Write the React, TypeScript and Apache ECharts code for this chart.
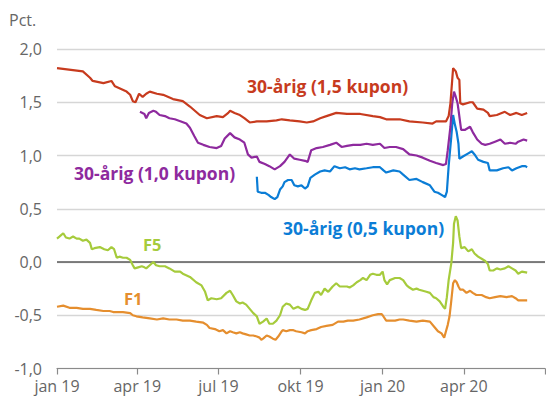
import React, { useEffect, useRef } from "react";
import * as echarts from "echarts";

type P = [string, number];

const kupon15: P[] = [
  ["2019-01-01", 1.82], ["2019-01-30", 1.79], ["2019-02-07", 1.73], ["2019-02-10", 1.70], ["2019-02-22", 1.68],
  ["2019-03-03", 1.70], ["2019-03-07", 1.65], ["2019-03-20", 1.60], ["2019-03-24", 1.57], ["2019-03-27", 1.51],
  ["2019-03-30", 1.50], ["2019-04-03", 1.58], ["2019-04-07", 1.55], ["2019-04-11", 1.58], ["2019-04-15", 1.60],
  ["2019-04-23", 1.58], ["2019-04-30", 1.57], ["2019-05-11", 1.53], ["2019-05-22", 1.51], ["2019-05-30", 1.46],
  ["2019-06-10", 1.38], ["2019-06-18", 1.35], ["2019-06-29", 1.37], ["2019-07-06", 1.36], ["2019-07-12", 1.40],
  ["2019-07-14", 1.42], ["2019-07-19", 1.40], ["2019-07-25", 1.38], ["2019-07-30", 1.35], ["2019-08-05", 1.31],
  ["2019-08-13", 1.32], ["2019-08-24", 1.32], ["2019-09-04", 1.33], ["2019-09-10", 1.34], ["2019-09-19", 1.33],
  ["2019-09-30", 1.32], ["2019-10-08", 1.31], ["2019-10-15", 1.32], ["2019-10-23", 1.35], ["2019-10-30", 1.37],
  ["2019-11-10", 1.40], ["2019-11-22", 1.39], ["2019-12-07", 1.39], ["2019-12-21", 1.37], ["2019-12-29", 1.36],
  ["2020-01-05", 1.34], ["2020-01-20", 1.34], ["2020-01-31", 1.32], ["2020-02-15", 1.31], ["2020-02-26", 1.30],
  ["2020-03-01", 1.32], ["2020-03-12", 1.32], ["2020-03-15", 1.37], ["2020-03-17", 1.49], ["2020-03-19", 1.71],
  ["2020-03-20", 1.82], ["2020-03-23", 1.79], ["2020-03-25", 1.73], ["2020-03-27", 1.71], ["2020-03-28", 1.49],
  ["2020-03-31", 1.48], ["2020-04-08", 1.50], ["2020-04-11", 1.50], ["2020-04-16", 1.44], ["2020-04-23", 1.43],
  ["2020-04-28", 1.40], ["2020-04-30", 1.37], ["2020-05-08", 1.38], ["2020-05-17", 1.41], ["2020-05-23", 1.38],
  ["2020-05-30", 1.40], ["2020-06-05", 1.38], ["2020-06-11", 1.40],
];

const kupon10: P[] = [
  ["2019-04-04", 1.41], ["2019-04-09", 1.39], ["2019-04-11", 1.35], ["2019-04-14", 1.40], ["2019-04-19", 1.42],
  ["2019-04-22", 1.41], ["2019-04-26", 1.38], ["2019-05-02", 1.37], ["2019-05-07", 1.35], ["2019-05-13", 1.34],
  ["2019-05-20", 1.32], ["2019-05-26", 1.30], ["2019-05-30", 1.26], ["2019-06-04", 1.18], ["2019-06-08", 1.12],
  ["2019-06-14", 1.10], ["2019-06-21", 1.08], ["2019-06-29", 1.07], ["2019-07-04", 1.09], ["2019-07-08", 1.16],
  ["2019-07-14", 1.21], ["2019-07-19", 1.17], ["2019-07-25", 1.15], ["2019-07-30", 1.12], ["2019-08-03", 1.01],
  ["2019-08-07", 0.98], ["2019-08-13", 0.99], ["2019-08-16", 0.94], ["2019-08-22", 0.92], ["2019-08-27", 0.90],
  ["2019-09-02", 0.87], ["2019-09-08", 0.90], ["2019-09-13", 0.94], ["2019-09-19", 1.01], ["2019-09-24", 0.97],
  ["2019-09-30", 0.96], ["2019-10-06", 0.95], ["2019-10-09", 0.94], ["2019-10-13", 1.05], ["2019-10-19", 1.07],
  ["2019-10-26", 1.08], ["2019-11-03", 1.10], ["2019-11-10", 1.12], ["2019-11-16", 1.08], ["2019-11-22", 1.09],
  ["2019-11-29", 1.10], ["2019-12-07", 1.10], ["2019-12-14", 1.11], ["2019-12-21", 1.10], ["2019-12-29", 1.11],
  ["2020-01-03", 1.07], ["2020-01-09", 1.08], ["2020-01-16", 1.08], ["2020-01-24", 1.06], ["2020-01-31", 1.01],
  ["2020-02-08", 1.00], ["2020-02-15", 0.98], ["2020-02-23", 0.95], ["2020-03-01", 0.93], ["2020-03-09", 0.91],
  ["2020-03-12", 0.92], ["2020-03-14", 1.05], ["2020-03-17", 1.27], ["2020-03-19", 1.49], ["2020-03-21", 1.60],
  ["2020-03-23", 1.55], ["2020-03-25", 1.49], ["2020-03-26", 1.43], ["2020-03-29", 1.24], ["2020-04-02", 1.24],
  ["2020-04-08", 1.27], ["2020-04-11", 1.22], ["2020-04-16", 1.15], ["2020-04-21", 1.11], ["2020-04-25", 1.10],
  ["2020-04-30", 1.11], ["2020-05-06", 1.13], ["2020-05-12", 1.15], ["2020-05-17", 1.11], ["2020-05-23", 1.12],
  ["2020-05-29", 1.11], ["2020-06-01", 1.13], ["2020-06-07", 1.15], ["2020-06-11", 1.14],
];

const kupon05: P[] = [
  ["2019-08-13", 0.80], ["2019-08-14", 0.66], ["2019-08-18", 0.65], ["2019-08-22", 0.65], ["2019-08-26", 0.63],
  ["2019-08-29", 0.61], ["2019-09-02", 0.59], ["2019-09-05", 0.61], ["2019-09-08", 0.68], ["2019-09-11", 0.71],
  ["2019-09-13", 0.75], ["2019-09-17", 0.77], ["2019-09-21", 0.77], ["2019-09-24", 0.72], ["2019-09-28", 0.71],
  ["2019-10-02", 0.72], ["2019-10-06", 0.69], ["2019-10-09", 0.71], ["2019-10-12", 0.79], ["2019-10-17", 0.82],
  ["2019-10-23", 0.85], ["2019-10-28", 0.86], ["2019-11-03", 0.85], ["2019-11-08", 0.90], ["2019-11-14", 0.88],
  ["2019-11-20", 0.89], ["2019-11-25", 0.87], ["2019-12-01", 0.88], ["2019-12-06", 0.87], ["2019-12-14", 0.88],
  ["2019-12-21", 0.89], ["2019-12-29", 0.89], ["2020-01-02", 0.86], ["2020-01-05", 0.84], ["2020-01-13", 0.86],
  ["2020-01-20", 0.85], ["2020-01-24", 0.82], ["2020-01-31", 0.77], ["2020-02-08", 0.78], ["2020-02-15", 0.75],
  ["2020-02-23", 0.72], ["2020-02-28", 0.66], ["2020-03-03", 0.65], ["2020-03-07", 0.63], ["2020-03-11", 0.61],
  ["2020-03-13", 0.66], ["2020-03-15", 0.90], ["2020-03-18", 1.18], ["2020-03-20", 1.38], ["2020-03-22", 1.29],
  ["2020-03-24", 1.22], ["2020-03-26", 1.11], ["2020-03-27", 0.97], ["2020-03-31", 0.99], ["2020-04-06", 1.02],
  ["2020-04-10", 1.04], ["2020-04-13", 1.01], ["2020-04-17", 0.96], ["2020-04-23", 0.94], ["2020-04-28", 0.93],
  ["2020-04-30", 0.86], ["2020-05-08", 0.86], ["2020-05-15", 0.88], ["2020-05-21", 0.89], ["2020-05-25", 0.86],
  ["2020-05-30", 0.88], ["2020-06-05", 0.90], ["2020-06-09", 0.90], ["2020-06-11", 0.89],
];

const f5: P[] = [
  ["2019-01-01", 0.22], ["2019-01-04", 0.24], ["2019-01-08", 0.27], ["2019-01-11", 0.23], ["2019-01-15", 0.22],
  ["2019-01-19", 0.24], ["2019-01-23", 0.22], ["2019-01-26", 0.22], ["2019-01-30", 0.20], ["2019-02-03", 0.21],
  ["2019-02-07", 0.18], ["2019-02-09", 0.12], ["2019-02-12", 0.13], ["2019-02-18", 0.14], ["2019-02-23", 0.12],
  ["2019-02-27", 0.11], ["2019-03-03", 0.14], ["2019-03-06", 0.12], ["2019-03-09", 0.04], ["2019-03-12", 0.05],
  ["2019-03-16", 0.04], ["2019-03-20", 0.04], ["2019-03-24", 0.02], ["2019-03-27", -0.03], ["2019-03-29", -0.06],
  ["2019-04-02", -0.05], ["2019-04-06", -0.04], ["2019-04-09", -0.05], ["2019-04-11", -0.06], ["2019-04-15", -0.03],
  ["2019-04-19", 0.0], ["2019-04-22", -0.03], ["2019-04-26", -0.04], ["2019-05-02", -0.04], ["2019-05-07", -0.06],
  ["2019-05-13", -0.09], ["2019-05-19", -0.09], ["2019-05-22", -0.11], ["2019-05-30", -0.14], ["2019-06-06", -0.19],
  ["2019-06-12", -0.22], ["2019-06-16", -0.28], ["2019-06-19", -0.36], ["2019-06-23", -0.34], ["2019-06-29", -0.35],
  ["2019-07-04", -0.34], ["2019-07-10", -0.29], ["2019-07-14", -0.27], ["2019-07-17", -0.31], ["2019-07-21", -0.37],
  ["2019-07-25", -0.39], ["2019-07-28", -0.38], ["2019-08-01", -0.40], ["2019-08-05", -0.44], ["2019-08-09", -0.48],
  ["2019-08-13", -0.51], ["2019-08-16", -0.58], ["2019-08-20", -0.56], ["2019-08-24", -0.53], ["2019-08-27", -0.58],
  ["2019-08-31", -0.58], ["2019-09-04", -0.55], ["2019-09-08", -0.50], ["2019-09-11", -0.42], ["2019-09-15", -0.39],
  ["2019-09-19", -0.40], ["2019-09-23", -0.44], ["2019-09-28", -0.42], ["2019-10-02", -0.44], ["2019-10-06", -0.45],
  ["2019-10-09", -0.44], ["2019-10-13", -0.36], ["2019-10-17", -0.29], ["2019-10-21", -0.28], ["2019-10-24", -0.31],
  ["2019-10-28", -0.25], ["2019-11-01", -0.28], ["2019-11-06", -0.23], ["2019-11-10", -0.20], ["2019-11-14", -0.23],
  ["2019-11-22", -0.23], ["2019-11-25", -0.24], ["2019-11-29", -0.22], ["2019-12-03", -0.19], ["2019-12-07", -0.17],
  ["2019-12-10", -0.15], ["2019-12-14", -0.17], ["2019-12-18", -0.12], ["2019-12-21", -0.11], ["2019-12-25", -0.12],
  ["2019-12-29", -0.12], ["2020-01-01", -0.09], ["2020-01-03", -0.17], ["2020-01-06", -0.21], ["2020-01-09", -0.17],
  ["2020-01-15", -0.15], ["2020-01-20", -0.15], ["2020-01-24", -0.17], ["2020-01-28", -0.22], ["2020-01-31", -0.24],
  ["2020-02-04", -0.26], ["2020-02-08", -0.25], ["2020-02-11", -0.26], ["2020-02-15", -0.27], ["2020-02-19", -0.28],
  ["2020-02-23", -0.29], ["2020-02-27", -0.33], ["2020-03-01", -0.34], ["2020-03-05", -0.37], ["2020-03-09", -0.42],
  ["2020-03-11", -0.44], ["2020-03-13", -0.33], ["2020-03-15", -0.17], ["2020-03-18", -0.01], ["2020-03-20", 0.18],
  ["2020-03-21", 0.36], ["2020-03-23", 0.43], ["2020-03-25", 0.39], ["2020-03-27", 0.24], ["2020-03-29", 0.13],
  ["2020-04-02", 0.14], ["2020-04-06", 0.10], ["2020-04-10", 0.12], ["2020-04-13", 0.08], ["2020-04-17", 0.05],
  ["2020-04-21", 0.03], ["2020-04-25", 0.01], ["2020-04-28", -0.02], ["2020-04-30", -0.08], ["2020-05-04", -0.08],
  ["2020-05-08", -0.06], ["2020-05-12", -0.07], ["2020-05-17", -0.06], ["2020-05-21", -0.04], ["2020-05-25", -0.06],
  ["2020-05-29", -0.08], ["2020-06-01", -0.11], ["2020-06-05", -0.09], ["2020-06-11", -0.10],
];

const f1: P[] = [
  ["2019-01-01", -0.42], ["2019-01-08", -0.41], ["2019-01-15", -0.43], ["2019-01-23", -0.43], ["2019-01-30", -0.44],
  ["2019-02-07", -0.44], ["2019-02-14", -0.45], ["2019-02-22", -0.46], ["2019-03-01", -0.46], ["2019-03-05", -0.47],
  ["2019-03-09", -0.47], ["2019-03-16", -0.47], ["2019-03-24", -0.48], ["2019-03-27", -0.50], ["2019-03-31", -0.51],
  ["2019-04-07", -0.52], ["2019-04-15", -0.53], ["2019-04-23", -0.54], ["2019-04-30", -0.53], ["2019-05-07", -0.54],
  ["2019-05-15", -0.54], ["2019-05-22", -0.55], ["2019-05-30", -0.55], ["2019-06-06", -0.56], ["2019-06-14", -0.57],
  ["2019-06-18", -0.59], ["2019-06-21", -0.62], ["2019-06-27", -0.63], ["2019-07-02", -0.65], ["2019-07-06", -0.64],
  ["2019-07-10", -0.67], ["2019-07-14", -0.65], ["2019-07-17", -0.66], ["2019-07-21", -0.67], ["2019-07-25", -0.66],
  ["2019-07-28", -0.67], ["2019-08-01", -0.68], ["2019-08-05", -0.69], ["2019-08-09", -0.69], ["2019-08-13", -0.70],
  ["2019-08-16", -0.71], ["2019-08-18", -0.73], ["2019-08-20", -0.72], ["2019-08-24", -0.69], ["2019-08-27", -0.70],
  ["2019-08-31", -0.72], ["2019-09-03", -0.73], ["2019-09-06", -0.70], ["2019-09-10", -0.65], ["2019-09-11", -0.64],
  ["2019-09-15", -0.65], ["2019-09-19", -0.64], ["2019-09-23", -0.64], ["2019-09-26", -0.65], ["2019-10-02", -0.66],
  ["2019-10-06", -0.67], ["2019-10-09", -0.65], ["2019-10-13", -0.64], ["2019-10-19", -0.63], ["2019-10-24", -0.61],
  ["2019-10-30", -0.60], ["2019-11-06", -0.59], ["2019-11-12", -0.56], ["2019-11-18", -0.56], ["2019-11-23", -0.55],
  ["2019-11-29", -0.55], ["2019-12-06", -0.54], ["2019-12-14", -0.52], ["2019-12-21", -0.50], ["2019-12-27", -0.49],
  ["2019-12-31", -0.49], ["2020-01-01", -0.50], ["2020-01-05", -0.55], ["2020-01-09", -0.55], ["2020-01-15", -0.55],
  ["2020-01-20", -0.54], ["2020-01-24", -0.54], ["2020-01-31", -0.55], ["2020-02-08", -0.56], ["2020-02-15", -0.55],
  ["2020-02-23", -0.56], ["2020-02-28", -0.61], ["2020-03-03", -0.65], ["2020-03-07", -0.67], ["2020-03-10", -0.71],
  ["2020-03-12", -0.65], ["2020-03-14", -0.59], ["2020-03-16", -0.51], ["2020-03-18", -0.36], ["2020-03-20", -0.20],
  ["2020-03-22", -0.17], ["2020-03-24", -0.19], ["2020-03-26", -0.23], ["2020-03-28", -0.26], ["2020-03-31", -0.26],
  ["2020-04-04", -0.29], ["2020-04-08", -0.27], ["2020-04-11", -0.29], ["2020-04-15", -0.31], ["2020-04-21", -0.31],
  ["2020-04-26", -0.33], ["2020-04-30", -0.34], ["2020-05-06", -0.33], ["2020-05-12", -0.32], ["2020-05-19", -0.33],
  ["2020-05-25", -0.32], ["2020-05-29", -0.34], ["2020-06-01", -0.36], ["2020-06-07", -0.36], ["2020-06-11", -0.36],
];

const tickDates = ["2019-01-01", "2019-04-01", "2019-07-01", "2019-10-01", "2020-01-01", "2020-04-01", "2020-07-01"];
const tickLabels = ["jan 19", "apr 19", "jul 19", "okt 19", "jan 20", "apr 20", ""];
const yMin = -1;
const yMax = 2;
const yStep = 0.5;

const COLORS = {
  k15: "#C73B1E",
  k10: "#8E2A9E",
  k05: "#0B7DD6",
  f5: "#A6CB3C",
  f1: "#E58E2E",
};

const FONT = "'Open Sans', 'DejaVu Sans', sans-serif";

function ts(d: string): number {
  const [y, m, day] = d.split("-").map(Number);
  return Date.UTC(y, m - 1, day);
}

function toData(arr: P[]) {
  return arr.map(([d, v]) => [ts(d), v]);
}

export default function App() {
  const ref = useRef<HTMLDivElement>(null);

  useEffect(() => {
    if (!ref.current) return;
    const chart = echarts.init(ref.current, undefined, { renderer: "svg" });
    const tickTs = tickDates.map(ts);
    const labelMap: Record<number, string> = {};
    tickTs.forEach((t, i) => (labelMap[t] = tickLabels[i]));

    const line = (name: string, arr: P[], color: string, extra: any = {}) => ({
      name,
      type: "line",
      data: toData(arr),
      showSymbol: false,
      symbol: "none",
      lineStyle: { color, width: 2.2 },
      itemStyle: { color },
      z: 3,
      ...extra,
    });

    const bigLabel = (text: string, x: number, y: number, fill: string) => ({
      type: "text",
      x,
      y,
      style: { text, fill, fontSize: 17.5, fontWeight: "bold", fontFamily: FONT, textVerticalAlign: "middle" },
    });

    chart.setOption({
      animation: false,
      backgroundColor: "#ffffff",
      grid: { left: 57, right: 1, top: 49, bottom: 31.5, containLabel: false },
      xAxis: {
        type: "value",
        min: tickTs[0],
        max: tickTs[tickTs.length - 1],
        splitLine: { show: false },
        axisLine: { show: true, onZero: false, lineStyle: { color: "#8a8a8a", width: 1.2 } },
        axisTick: {
          show: true,
          customValues: tickTs,
          length: 6,
          lineStyle: { color: "#8a8a8a", width: 1.2 },
        },
        axisLabel: {
          customValues: tickTs.slice(0, -1),
          formatter: (v: number) => labelMap[v] ?? "",
          color: "#666666",
          fontSize: 16,
          fontFamily: FONT,
          margin: 9,
        },
      },
      yAxis: {
        type: "value",
        min: yMin,
        max: yMax,
        interval: yStep,
        axisLine: { show: false },
        axisTick: { show: false },
        splitLine: { show: true, lineStyle: { color: "#D6D6D6", width: 1.3 } },
        axisLabel: {
          formatter: (v: number) => v.toFixed(1).replace(".", ","),
          color: "#666666",
          fontSize: 16,
          fontFamily: FONT,
          margin: 15,
        },
      },
      series: [
        line("F1", f1, COLORS.f1, {
          markLine: {
            silent: true,
            symbol: "none",
            label: { show: false },
            lineStyle: { color: "#5a5a5a", width: 1.5, type: "solid" },
            data: [{ yAxis: 0 }],
            z: 2,
          },
        }),
        line("F5", f5, COLORS.f5),
        line("30-årig (0,5 kupon)", kupon05, COLORS.k05),
        line("30-årig (1,0 kupon)", kupon10, COLORS.k10),
        line("30-årig (1,5 kupon)", kupon15, COLORS.k15),
      ],
      graphic: [
        { type: "text", left: 9, top: 12, style: { text: "Pct.", fill: "#666666", fontSize: 16, fontFamily: FONT } },
        bigLabel("30-årig (1,5 kupon)", 247, 86, COLORS.k15),
        bigLabel("30-årig (1,0 kupon)", 74, 173, COLORS.k10),
        bigLabel("30-årig (0,5 kupon)", 283, 228, COLORS.k05),
        {
          type: "text", x: 143, y: 244,
          style: { text: "F5", fill: COLORS.f5, fontSize: 16.5, fontWeight: "bold", fontFamily: FONT, textVerticalAlign: "middle" },
        },
        {
          type: "text", x: 124, y: 298,
          style: { text: "F1", fill: COLORS.f1, fontSize: 16.5, fontWeight: "bold", fontFamily: FONT, textVerticalAlign: "middle" },
        },
      ],
    });

    return () => chart.dispose();
  }, []);

  return <div ref={ref} style={{ width: 546, height: 400, position: "absolute", left: 0, top: 0 }} />;
}
